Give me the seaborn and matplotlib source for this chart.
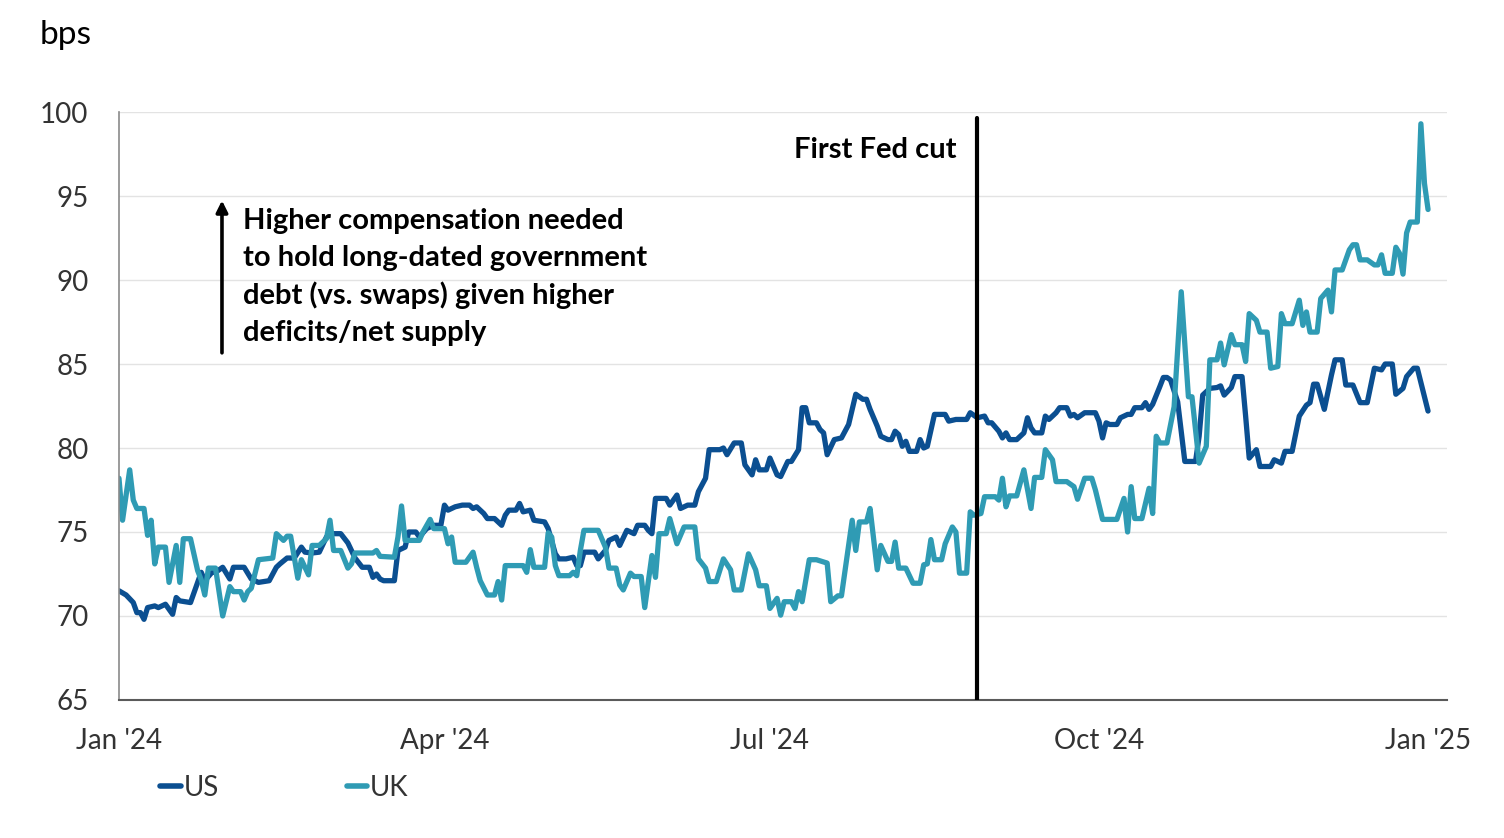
import matplotlib
matplotlib.use("Agg")
import matplotlib.pyplot as plt
from matplotlib.lines import Line2D
import seaborn as sns
import pandas as pd

# days since 1 Jan 2024, and the term-premium reading (bps) on that day
us_day = [0, 2, 4, 5, 6, 7, 8, 10, 11, 13, 15, 16, 17, 20, 21, 23, 24, 26, 27, 29,
          31, 32, 35, 37, 39, 42, 44, 45, 47, 49, 51, 52, 54, 56, 58, 60, 62, 64, 66, 68,
          70, 71, 72, 73, 74, 77, 78, 80, 81, 83, 84, 86, 88, 90, 91, 92, 94, 96, 98, 99,
          100, 102, 103, 105, 107, 108, 109, 111, 112, 113, 115, 116, 119, 120, 122, 123, 125, 127, 128, 129,
          130, 133, 134, 136, 137, 139, 140, 142, 144, 145, 147, 148, 149, 150, 153, 154, 156, 157, 159, 161,
          162, 163, 164, 165, 168, 169, 170, 172, 174, 175, 177, 178, 179, 181, 182, 184, 185, 187, 188, 190,
          191, 192, 193, 195, 196, 197, 198, 200, 202, 204, 205, 206, 208, 209, 210, 212, 213, 215, 216, 217,
          218, 219, 220, 221, 223, 224, 225, 226, 228, 231, 232, 234, 237, 238, 240, 242, 243, 244, 246, 247,
          248, 249, 251, 253, 254, 255, 256, 258, 259, 260, 262, 263, 265, 266, 267, 268, 270, 273, 274, 275,
          276, 277, 279, 280, 282, 283, 284, 286, 287, 288, 289, 291, 292, 293, 294, 296, 298, 301, 302, 303,
          305, 307, 308, 309, 311, 312, 314, 315, 316, 318, 319, 322, 323, 325, 326, 328, 330, 332, 333, 334,
          335, 337, 339, 340, 342, 343, 345, 347, 349, 351, 353, 354, 356, 357, 359, 360, 362, 363, 365, 366]
us_bps = [71.5, 71.25, 70.8, 70.2, 70.2, 69.8, 70.5, 70.6, 70.5, 70.7, 70.1, 71.1, 70.9, 70.8, 71.4, 72.6, 72.1, 72.6, 72.6, 72.9,
          72.2, 72.9, 72.9, 72.2, 72.0, 72.1, 72.9, 73.1, 73.45, 73.45, 74.1, 73.8, 73.75, 73.8, 74.7, 74.9, 74.9, 74.35, 73.45, 72.9,
          72.9, 72.3, 72.5, 72.2, 72.1, 72.1, 73.9, 74.1, 75.0, 75.0, 74.7, 75.2, 75.4, 75.4, 76.6, 76.3, 76.5, 76.6, 76.6, 76.4,
          76.5, 76.1, 75.8, 75.8, 75.4, 76.0, 76.3, 76.3, 76.7, 76.2, 76.3, 75.7, 75.6, 75.2, 73.7, 73.4, 73.4, 73.5, 73.0, 73.0,
          73.8, 73.8, 73.4, 73.9, 74.5, 74.7, 74.2, 75.1, 74.9, 75.4, 75.4, 75.1, 74.9, 77.0, 77.0, 76.6, 77.2, 76.4, 76.6, 76.6,
          77.4, 77.8, 78.2, 79.9, 79.9, 80.0, 79.6, 80.3, 80.3, 79.0, 78.4, 79.3, 78.7, 78.7, 79.4, 78.4, 78.3, 79.2, 79.2, 79.9,
          82.4, 82.4, 81.5, 81.5, 81.1, 80.9, 79.6, 80.5, 80.6, 81.4, 82.3, 83.2, 82.9, 82.9, 82.3, 81.3, 80.7, 80.5, 80.5, 81.0,
          80.8, 80.1, 80.4, 79.8, 79.8, 80.5, 80.0, 80.1, 82.0, 82.0, 81.6, 81.7, 81.7, 82.1, 81.8, 81.9, 81.5, 81.5, 81.0, 80.6,
          80.9, 80.5, 80.5, 80.9, 81.8, 81.2, 80.9, 80.9, 81.9, 81.7, 82.1, 82.4, 82.4, 81.9, 82.0, 81.8, 82.1, 82.1, 81.6, 80.6,
          81.5, 81.4, 81.4, 81.8, 82.0, 82.0, 82.4, 82.4, 82.7, 82.3, 82.6, 83.65, 84.2, 84.2, 84.05, 82.75, 79.2, 79.2, 80.7, 83.15,
          83.55, 83.6, 83.7, 83.15, 83.6, 84.25, 84.25, 81.9, 79.4, 79.9, 78.9, 78.9, 79.3, 79.1, 79.8, 79.8, 81.9, 82.55, 82.7, 83.8,
          83.8, 82.3, 84.35, 85.25, 85.25, 83.75, 83.75, 82.7, 82.7, 84.75, 84.65, 85.0, 85.0, 83.2, 83.55, 84.25, 84.75, 84.75, 83.05, 82.2]

uk_day = [0, 1, 3, 4, 5, 7, 8, 9, 10, 11, 13, 14, 16, 17, 18, 20, 22, 23, 24, 25,
          27, 29, 31, 32, 34, 35, 36, 37, 39, 43, 44, 46, 47, 48, 50, 51, 53, 54, 56, 58,
          59, 60, 62, 64, 65, 66, 71, 72, 73, 77, 78, 79, 80, 84, 85, 87, 88, 91, 92, 93,
          94, 97, 99, 100, 101, 103, 105, 106, 107, 108, 113, 114, 115, 116, 119, 120, 121, 122, 123, 126,
          127, 128, 129, 130, 134, 136, 137, 139, 140, 141, 143, 144, 146, 147, 149, 150, 151, 153, 154, 156,
          158, 161, 162, 164, 165, 167, 169, 171, 172, 174, 176, 178, 179, 181, 182, 184, 185, 186, 188, 189,
          190, 191, 193, 195, 198, 199, 201, 202, 205, 206, 207, 209, 210, 212, 213, 215, 216, 217, 218, 220,
          222, 224, 225, 226, 227, 228, 230, 231, 233, 234, 235, 237, 238, 239, 241, 242, 245, 246, 247, 248,
          249, 251, 253, 255, 256, 258, 259, 261, 262, 265, 267, 268, 270, 272, 273, 275, 279, 281, 282, 283,
          284, 286, 288, 289, 290, 291, 293, 295, 297, 299, 300, 302, 304, 305, 307, 308, 309, 311, 312, 314,
          315, 316, 318, 319, 321, 322, 324, 325, 326, 328, 330, 331, 332, 333, 335, 336, 338, 339, 340, 342,
          344, 345, 346, 347, 349, 351, 352, 353, 354, 356, 357, 358, 359, 360, 361, 363, 364, 365, 366]
uk_bps = [78.2, 75.7, 78.7, 76.9, 76.4, 76.4, 74.8, 75.7, 73.1, 74.1, 74.1, 72.0, 74.2, 72.0, 74.6, 74.6, 72.7, 72.15, 71.25, 72.85,
          72.85, 70.0, 71.75, 71.45, 71.45, 70.95, 71.45, 71.65, 73.35, 73.45, 74.9, 74.5, 74.75, 74.75, 72.25, 73.35, 72.45, 74.2, 74.2, 74.6,
          75.7, 73.9, 73.9, 72.85, 73.1, 73.75, 73.75, 73.9, 73.55, 73.5, 74.7, 76.55, 74.5, 74.5, 75.0, 75.75, 75.2, 75.2, 74.3, 74.7,
          73.2, 73.2, 73.8, 72.9, 72.1, 71.25, 71.25, 72.05, 70.95, 73.0, 73.0, 72.6, 73.95, 72.9, 72.9, 74.95, 74.7, 73.0, 72.4, 72.4,
          72.6, 72.4, 73.9, 75.1, 75.1, 74.1, 72.85, 72.85, 71.85, 71.55, 72.55, 72.35, 72.35, 70.5, 73.6, 72.3, 74.9, 74.9, 75.8, 74.3,
          75.3, 75.3, 73.4, 72.85, 72.05, 72.05, 73.4, 72.75, 71.55, 71.55, 73.7, 72.75, 71.8, 71.8, 70.45, 71.05, 70.05, 70.85, 70.85, 70.45,
          71.45, 70.85, 73.35, 73.35, 73.15, 70.85, 71.2, 71.2, 75.7, 73.9, 75.6, 75.6, 76.4, 72.75, 74.2, 73.25, 73.25, 74.4, 72.85, 72.85,
          71.95, 71.95, 73.05, 73.1, 74.55, 73.35, 73.35, 74.3, 75.3, 75.0, 72.55, 72.55, 76.2, 76.0, 76.1, 77.1, 77.1, 76.9, 78.2, 76.5,
          77.15, 77.15, 78.7, 76.4, 78.25, 78.25, 79.9, 79.3, 78.0, 78.0, 77.7, 76.95, 78.2, 78.2, 77.5, 75.75, 75.75, 77.0, 75.0, 77.7,
          75.8, 75.8, 77.6, 76.1, 80.7, 80.3, 80.3, 82.45, 89.3, 83.05, 83.05, 79.1, 80.1, 85.25, 85.25, 86.25, 84.95, 86.75, 86.15, 86.15,
          85.15, 88.0, 87.6, 86.9, 86.9, 84.75, 84.85, 88.0, 87.4, 87.4, 88.8, 87.3, 88.1, 86.9, 86.9, 88.9, 89.4, 88.1, 90.6, 90.6,
          91.8, 92.1, 92.1, 91.2, 91.2, 90.9, 90.9, 91.5, 90.4, 90.4, 91.95, 91.6, 90.35, 92.8, 93.45, 93.45, 99.3, 95.75, 94.2]

tick_dates = ["2024-01-01", "2024-04-01", "2024-07-01", "2024-10-01", "2025-01-01"]
tick_labels = ["Jan '24", "Apr '24", "Jul '24", "Oct '24", "Jan '25"]
fed_cut = "2024-08-28"

start = pd.Timestamp("2024-01-01")
df = pd.concat([
    pd.DataFrame({"date": start + pd.to_timedelta(us_day, unit="D"), "bps": us_bps, "series": "US"}),
    pd.DataFrame({"date": start + pd.to_timedelta(uk_day, unit="D"), "bps": uk_bps, "series": "UK"}),
], ignore_index=True)

sns.set_theme(style="white")
plt.rcParams["font.family"] = ["Lato", "DejaVu Sans"]

colors = {"US": "#0b4f91", "UK": "#2f9bb4"}
text_col = "#333333"

fig = plt.figure(figsize=(15.04, 8.38), dpi=100)
ax = fig.add_axes([0.0791, 0.1647, 0.8830, 0.7016])

sns.lineplot(data=df, x="date", y="bps", hue="series", hue_order=["US", "UK"],
             palette=colors, linewidth=3.8, estimator=None, legend=False, ax=ax)

# axes styling
ax.set_ylim(65, 100)
ax.set_yticks(range(65, 101, 5))
ax.set_xlim(start, start + pd.Timedelta(days=371.3))
ax.set_xticks(pd.to_datetime(tick_dates))
ax.set_xticklabels(tick_labels)
ax.set_xlabel("")
ax.set_ylabel("")
ax.grid(axis="y", color="#e3e3e3", linewidth=1)
ax.set_axisbelow(True)
for s in ["top", "right"]:
    ax.spines[s].set_visible(False)
ax.spines["left"].set_color("#8a8a8a")
ax.spines["bottom"].set_color("#5a5a5a")
ax.spines["left"].set_linewidth(1.2)
ax.spines["bottom"].set_linewidth(1.5)
ax.tick_params(axis="both", length=0, labelsize=20, colors=text_col)
ax.tick_params(axis="y", pad=22)
ax.tick_params(axis="x", pad=20)

# first Fed cut marker
cut = pd.Timestamp(fed_cut)
ax.plot([cut, cut], [65, 99.65], color="black", linewidth=3.0, zorder=5)
ax.text(cut - pd.Timedelta(days=5.7), 97.74, "First Fed cut", ha="right", va="center",
        fontsize=21, fontweight="bold", color="black")

# annotation arrow + text
arr_x = start + pd.Timedelta(days=28.8)
ax.annotate("", xy=(arr_x, 94.9), xytext=(arr_x, 85.5),
            arrowprops=dict(arrowstyle="-|>", color="black", lw=2.6, mutation_scale=17))
ax.text(start + pd.Timedelta(days=34.7), 90.18,
        "Higher compensation needed\nto hold long-dated government\ndebt (vs. swaps) given higher\ndeficits/net supply",
        ha="left", va="center", fontsize=21, fontweight="bold", color="black", linespacing=1.5)

fig.text(40 / 1504, 1 - 35 / 838, "bps", ha="left", va="center", fontsize=24, color="black")

handles = [Line2D([0], [0], color=colors[k], linewidth=4) for k in ["US", "UK"]]
fig.legend(handles, ["US", "UK"], loc="center left", bbox_to_anchor=(160 / 1504, 1 - 788 / 838),
           ncol=2, frameon=False, fontsize=20, handlelength=0.75, handletextpad=0.1,
           columnspacing=4.6, borderpad=0, borderaxespad=0, labelcolor=text_col)

fig.savefig("out.png", dpi=100)
